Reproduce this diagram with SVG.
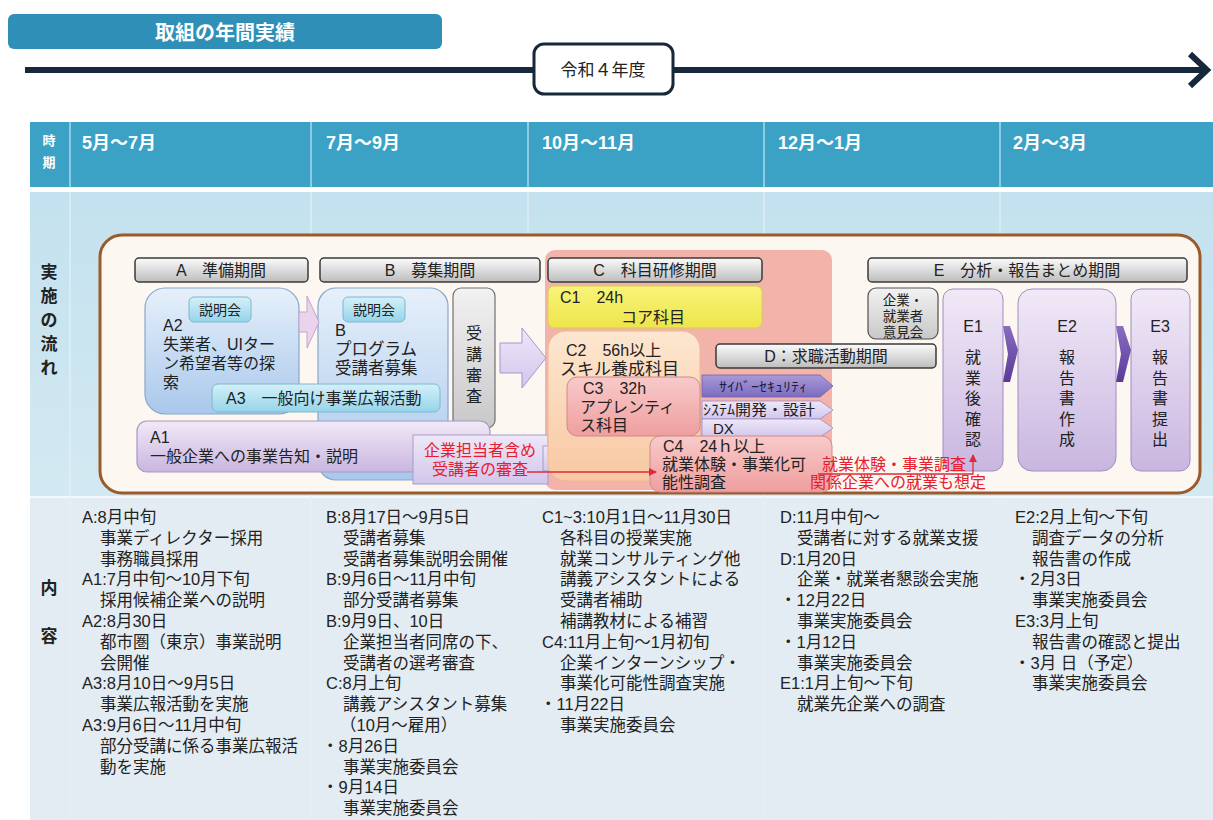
<svg xmlns="http://www.w3.org/2000/svg" width="1213" height="820" viewBox="0 0 1213 820">
<defs>
<linearGradient id="gBar" x1="0" y1="0" x2="0" y2="1"><stop offset="0" stop-color="#fbfbfb"/><stop offset="1" stop-color="#bdbdbd"/></linearGradient>
<linearGradient id="gGrey" x1="0" y1="0" x2="0" y2="1"><stop offset="0" stop-color="#f2f2f2"/><stop offset="1" stop-color="#c8c8c8"/></linearGradient>
<linearGradient id="gBlue" x1="0" y1="0" x2="0" y2="1"><stop offset="0" stop-color="#e6f0fa"/><stop offset="1" stop-color="#a9c8ec"/></linearGradient>
<linearGradient id="gCyan" x1="0" y1="0" x2="0" y2="1"><stop offset="0" stop-color="#d4f0f8"/><stop offset="1" stop-color="#96d4ea"/></linearGradient>
<linearGradient id="gLav" x1="0" y1="0" x2="0" y2="1"><stop offset="0" stop-color="#f1e9f7"/><stop offset="1" stop-color="#c9b6e0"/></linearGradient>
<linearGradient id="gLav2" x1="0" y1="0" x2="0" y2="1"><stop offset="0" stop-color="#eee8f8"/><stop offset="1" stop-color="#d2c6ec"/></linearGradient>
<linearGradient id="gYel" x1="0" y1="0" x2="0" y2="1"><stop offset="0" stop-color="#f8f47a"/><stop offset="1" stop-color="#eee44a"/></linearGradient>
<linearGradient id="gPeach" x1="0" y1="0" x2="0" y2="1"><stop offset="0" stop-color="#fde6cf"/><stop offset="1" stop-color="#f8c8a2"/></linearGradient>
<linearGradient id="gPink" x1="0" y1="0" x2="0" y2="1"><stop offset="0" stop-color="#f8caca"/><stop offset="1" stop-color="#ef9e9e"/></linearGradient>
<linearGradient id="gPurple" x1="0" y1="0" x2="0" y2="1"><stop offset="0" stop-color="#a89ad8"/><stop offset="1" stop-color="#7c6cc0"/></linearGradient>
<linearGradient id="gDark" x1="0" y1="0" x2="0" y2="1"><stop offset="0" stop-color="#8a6cc0"/><stop offset="1" stop-color="#5a3a98"/></linearGradient>
<linearGradient id="gFlow" x1="0" y1="0" x2="0" y2="1"><stop offset="0" stop-color="#c3e1ee"/><stop offset="1" stop-color="#d3e9f2"/></linearGradient>
<marker id="redHead" markerWidth="8" markerHeight="8" refX="7" refY="4" orient="auto" markerUnits="userSpaceOnUse"><path d="M0,0 L8,4 L0,8 z" fill="#e02a3a"/></marker>
<style>
text{font-family:'Liberation Sans','Noto Sans CJK JP','Noto Sans CJK SC',sans-serif;fill:#222;}
.hd{font-size:18px;font-weight:bold;fill:#fff;}
.lbl{font-size:17px;font-weight:bold;text-anchor:middle;}
.bar{fill:url(#gBar);stroke:#3a3a3a;stroke-width:1.5;}
.bt{font-size:16px;text-anchor:middle;}
.t16{font-size:16px;}
.red{fill:#e5202e;font-size:16px;}
.ct{font-size:16.5px;}
.vc{font-size:16px;text-anchor:middle;}
.sep{stroke:#e4f2f8;stroke-width:1.2;}
.hsep{stroke:#a8d8e8;stroke-width:1.5;}
</style>
</defs>

<rect x="0" y="0" width="1213" height="820" fill="#ffffff"/>

<g id="title">
<rect x="8" y="14" width="434" height="35" rx="6" fill="#2f8fb6"/>
<text x="225" y="40" style="font-size:20px;font-weight:bold;fill:#fff" text-anchor="middle">取組の年間実績</text>
</g>

<g id="timeline">
<line x1="25" y1="70" x2="1203" y2="70" stroke="#17283a" stroke-width="6"/>
<polyline points="1190,54 1207,70 1190,86" fill="none" stroke="#17283a" stroke-width="6"/>
<rect x="534" y="44" width="139" height="50" rx="10" fill="#fff" stroke="#17283a" stroke-width="3"/>
<text x="603" y="76" style="font-size:17px" text-anchor="middle">令和４年度</text>
</g>

<g id="table">
<rect x="30" y="122" width="1183" height="65" fill="#3ba2c6"/>
<line class="hsep" x1="70" y1="122" x2="70" y2="187"/>
<line class="hsep" x1="311" y1="122" x2="311" y2="187"/>
<line class="hsep" x1="528" y1="122" x2="528" y2="187"/>
<line class="hsep" x1="764" y1="122" x2="764" y2="187"/>
<line class="hsep" x1="1000" y1="122" x2="1000" y2="187"/>
<text x="49" y="145" style="font-size:13px;font-weight:bold;fill:#fff" text-anchor="middle">時<tspan x="49" dy="22">期</tspan></text>
<text class="hd" x="82" y="149">5月～7月</text>
<text class="hd" x="326" y="149">7月～9月</text>
<text class="hd" x="542" y="149">10月～11月</text>
<text class="hd" x="778" y="149">12月～1月</text>
<text class="hd" x="1013" y="149">2月～3月</text>
<rect x="30" y="192" width="1183" height="305" fill="url(#gFlow)"/>
<rect x="30" y="497" width="1183" height="323" fill="#e2ecf2"/>
<line x1="30" y1="497" x2="1213" y2="497" stroke="#f2f8fb" stroke-width="2"/>
<line class="sep" x1="70" y1="192" x2="70" y2="820"/>
<line class="sep" x1="311" y1="192" x2="311" y2="820"/>
<line class="sep" x1="528" y1="192" x2="528" y2="820"/>
<line class="sep" x1="764" y1="192" x2="764" y2="820"/>
<line class="sep" x1="1000" y1="192" x2="1000" y2="820"/>
<text class="lbl" x="49" y="278">実<tspan x="49" dy="24">施</tspan><tspan x="49" dy="24">の</tspan><tspan x="49" dy="24">流</tspan><tspan x="49" dy="24">れ</tspan></text>
<text class="lbl" x="49" y="594">内<tspan x="49" dy="48">容</tspan></text>
</g>

<g id="frame">
<rect x="100" y="235" width="1100" height="258" rx="22" fill="#fcf8f1" stroke="#9a5a2a" stroke-width="3"/>
<rect x="545" y="250" width="287" height="240" rx="10" fill="#f2b3ab"/>
</g>

<g id="barA"><rect class="bar" x="135" y="258" width="173" height="24" rx="4"/><text class="bt" x="221" y="276">A　準備期間</text></g>
<g id="barB"><rect class="bar" x="320" y="258" width="220" height="24" rx="4"/><text class="bt" x="430" y="276">B　募集期間</text></g>
<g id="barC"><rect class="bar" x="548" y="258" width="214" height="24" rx="4"/><text class="bt" x="655" y="276">C　科目研修期間</text></g>
<g id="barE"><rect class="bar" x="868" y="258" width="319" height="24" rx="4"/><text class="bt" x="1027" y="276">E　分析・報告まとめ期間</text></g>

<g id="nodeB">
<rect x="318" y="288" width="130" height="192" rx="18" fill="url(#gBlue)" stroke="#8aa6c8" stroke-width="1.2"/>
<rect x="343" y="297" width="62" height="25" rx="5" fill="url(#gCyan)" stroke="#7cb8d0"/>
<text class="bt" x="374" y="315" style="font-size:14px">説明会</text>
<text x="335" y="336" style="font-size:16.5px">B<tspan x="335" dy="19">プログラム</tspan><tspan x="335" dy="19">受講者募集</tspan></text>
</g>

<g id="nodeA2">
<rect x="145" y="288" width="154" height="126" rx="20" fill="url(#gBlue)" stroke="#8aa6c8" stroke-width="1.2"/>
<rect x="189" y="297" width="62" height="25" rx="5" fill="url(#gCyan)" stroke="#7cb8d0"/>
<text class="bt" x="220" y="315" style="font-size:14px">説明会</text>
<text class="t16" x="163" y="331">A2<tspan x="163" dy="19">失業者、UIター</tspan><tspan x="163" dy="19">ン希望者等の探</tspan><tspan x="163" dy="19">索</tspan></text>
</g>

<g id="nodeJuko">
<rect x="453" y="288" width="42" height="140" rx="8" fill="url(#gGrey)" stroke="#707070" stroke-width="1.2"/>
<text class="vc" x="474" y="339">受<tspan x="474" dy="21">講</tspan><tspan x="474" dy="21">審</tspan><tspan x="474" dy="21">査</tspan></text>
</g>

<g id="nodeA3">
<rect x="212" y="384" width="228" height="28" rx="6" fill="url(#gCyan)" stroke="#7cb8d0"/>
<text class="t16" x="226" y="404">A3　一般向け事業広報活動</text>
</g>

<g id="nodeA1">
<rect x="137" y="421" width="353" height="51" rx="10" fill="url(#gLav)" stroke="#a896c6" stroke-width="1.2"/>
<text class="t16" x="150" y="443">A1<tspan x="150" dy="19">一般企業への事業告知・説明</tspan></text>
</g>

<g id="nodeShinsa">
<rect x="413" y="435" width="135" height="49" fill="url(#gLav2)" stroke="#a59cc8" stroke-width="1"/>
<text class="red" x="480" y="456" text-anchor="middle">企業担当者含め<tspan x="480" dy="19">受講者の審査</tspan></text>
</g>
<g id="nodeMatch">
<rect x="543" y="446" width="105" height="25" fill="url(#gLav2)" stroke="#a59cc8" stroke-width="1"/>
<text class="red" x="594" y="464" text-anchor="middle" style="font-size:15.5px">マッチング</text>
</g>

<g id="nodeC1">
<rect x="548" y="286" width="214" height="42" rx="6" fill="url(#gYel)" stroke="#d8cc50" stroke-width="1"/>
<text class="t16" x="560" y="303">C1　24h<tspan x="621" dy="20">コア科目</tspan></text>
</g>

<g id="nodeC2">
<rect x="548" y="331" width="152" height="150" rx="18" fill="url(#gPeach)" stroke="#f0b890" stroke-width="1"/>
<text class="t16" x="566" y="356">C2　56h以上<tspan x="560" dy="19" style="font-size:17px">スキル養成科目</tspan></text>
</g>

<g id="nodeC3">
<rect x="567" y="377" width="133" height="59" rx="10" fill="url(#gPink)" stroke="#d08a8a" stroke-width="1"/>
<text class="t16" x="583" y="394">C3　32h<tspan x="580" dy="19">アプレンティ</tspan><tspan x="580" dy="18">ス科目</tspan></text>
</g>

<g id="arrowCyber">
<polygon points="702,375 820,375 833,386 820,397 702,397" fill="url(#gPurple)" stroke="#7060b0" stroke-width="0.8"/>
<text x="719" y="391" style="font-size:13px;fill:#1c1c3c" textLength="88" lengthAdjust="spacingAndGlyphs">ｻｲﾊﾞｰｾｷｭﾘﾃｨ</text>
</g>
<g id="arrowSys">
<polygon points="702,401 820,401 833,410 820,419 702,419" fill="url(#gLav2)" stroke="#9a8cc4" stroke-width="0.8"/>
<text x="703" y="415" style="font-size:14.5px" textLength="112" lengthAdjust="spacingAndGlyphs">ｼｽﾃﾑ開発・設計</text>
</g>
<g id="arrowDX">
<polygon points="702,419 820,419 833,428 820,437 702,437" fill="url(#gLav2)" stroke="#9a8cc4" stroke-width="0.8"/>
<text x="713" y="434" style="font-size:15px">DX</text>
</g>

<g id="nodeC4">
<rect x="650" y="436" width="182" height="56" rx="10" fill="url(#gPink)" stroke="#d08a8a" stroke-width="1"/>
<text class="t16" x="663" y="452">C4　24ｈ以上<tspan x="662" dy="18">就業体験・事業化可</tspan><tspan x="662" dy="18">能性調査</tspan></text>
</g>

<g id="barD"><rect class="bar" x="716" y="344" width="220" height="24" rx="4"/><text class="bt" x="826" y="362">D：求職活動期間</text></g>

<g id="nodeIken">
<rect x="868" y="288" width="70" height="51" rx="8" fill="url(#gGrey)" stroke="#505050" stroke-width="1.2"/>
<text class="bt" x="903" y="305" style="font-size:13.5px">企業・<tspan x="903" dy="16">就業者</tspan><tspan x="903" dy="16">意見会</tspan></text>
</g>

<g id="nodeE1">
<rect x="943" y="289" width="60" height="182" rx="10" fill="url(#gLav)" stroke="#9e8cc0" stroke-width="1"/>
<text class="vc" x="973" y="332">E1<tspan x="973" dy="31">就</tspan><tspan x="973" dy="20.5">業</tspan><tspan x="973" dy="20.5">後</tspan><tspan x="973" dy="20.5">確</tspan><tspan x="973" dy="20.5">認</tspan></text>
</g>
<g id="nodeE2">
<rect x="1018" y="289" width="98" height="182" rx="14" fill="url(#gLav)" stroke="#9e8cc0" stroke-width="1"/>
<text class="vc" x="1067" y="332">E2<tspan x="1067" dy="31">報</tspan><tspan x="1067" dy="20.5">告</tspan><tspan x="1067" dy="20.5">書</tspan><tspan x="1067" dy="20.5">作</tspan><tspan x="1067" dy="20.5">成</tspan></text>
</g>
<g id="nodeE3">
<rect x="1131" y="289" width="59" height="182" rx="10" fill="url(#gLav)" stroke="#9e8cc0" stroke-width="1"/>
<text class="vc" x="1160" y="332">E3<tspan x="1160" dy="31">報</tspan><tspan x="1160" dy="20.5">告</tspan><tspan x="1160" dy="20.5">書</tspan><tspan x="1160" dy="20.5">提</tspan><tspan x="1160" dy="20.5">出</tspan></text>
</g>

<g id="redNote">
<text class="red" x="822" y="470">就業体験・事業調査<tspan x="810" dy="18">関係企業への就業も想定</tspan></text>
</g>

<g id="connectors">
<polygon points="299,312 307,312 307,296 319,322 307,348 307,332 299,332" fill="#ead4ec" stroke="#c7a2cc" stroke-width="1"/>
<polygon points="500,343 522,343 522,328 546,358 522,388 522,373 500,373" fill="url(#gLav2)" stroke="#a995cc" stroke-width="1"/>
<polygon points="1003,326 1010,326 1018,350 1010,382 1003,382 1008,354" fill="url(#gDark)"/>
<polygon points="1116,326 1123,326 1131,350 1123,382 1116,382 1121,354" fill="url(#gDark)"/>
<line x1="527" y1="472" x2="656" y2="472" stroke="#e02a3a" stroke-width="1.5" marker-end="url(#redHead)"/>
<polyline points="818,474 973,474 973,455" fill="none" stroke="#e02a3a" stroke-width="1.3" marker-end="url(#redHead)"/>
</g>

<g id="content1">
<text class="ct" x="82" y="523">A:8月中旬<tspan x="100" dy="20.8">事業ディレクター採用</tspan><tspan x="100" dy="20.8">事務職員採用</tspan><tspan x="82" dy="20.8">A1:7月中旬～10月下旬</tspan><tspan x="100" dy="20.8">採用候補企業への説明</tspan><tspan x="82" dy="20.8">A2:8月30日</tspan><tspan x="100" dy="20.8">都市圏（東京）事業説明</tspan><tspan x="100" dy="20.8">会開催</tspan><tspan x="82" dy="20.8">A3:8月10日～9月5日</tspan><tspan x="100" dy="20.8">事業広報活動を実施</tspan><tspan x="82" dy="20.8">A3:9月6日～11月中旬</tspan><tspan x="100" dy="20.8">部分受講に係る事業広報活</tspan><tspan x="100" dy="20.8">動を実施</tspan></text>
</g>
<g id="content2">
<text class="ct" x="326" y="523">B:8月17日～9月5日<tspan x="343" dy="20.8">受講者募集</tspan><tspan x="343" dy="20.8">受講者募集説明会開催</tspan><tspan x="326" dy="20.8">B:9月6日～11月中旬</tspan><tspan x="343" dy="20.8">部分受講者募集</tspan><tspan x="326" dy="20.8">B:9月9日、10日</tspan><tspan x="343" dy="20.8">企業担当者同席の下、</tspan><tspan x="343" dy="20.8">受講者の選考審査</tspan><tspan x="326" dy="20.8">C:8月上旬</tspan><tspan x="343" dy="20.8">講義アシスタント募集</tspan><tspan x="340" dy="20.8">（10月～雇用）</tspan><tspan x="322" dy="20.8">・8月26日</tspan><tspan x="343" dy="20.8">事業実施委員会</tspan><tspan x="322" dy="20.8">・9月14日</tspan><tspan x="343" dy="20.8">事業実施委員会</tspan></text>
</g>
<g id="content3">
<text class="ct" x="542" y="523">C1~3:10月1日～11月30日<tspan x="560" dy="20.8">各科目の授業実施</tspan><tspan x="560" dy="20.8">就業コンサルティング他</tspan><tspan x="560" dy="20.8">講義アシスタントによる</tspan><tspan x="560" dy="20.8">受講者補助</tspan><tspan x="560" dy="20.8">補講教材による補習</tspan><tspan x="542" dy="20.8">C4:11月上旬～1月初旬</tspan><tspan x="560" dy="20.8">企業インターンシップ・</tspan><tspan x="560" dy="20.8">事業化可能性調査実施</tspan><tspan x="540" dy="20.8">・11月22日</tspan><tspan x="560" dy="20.8">事業実施委員会</tspan></text>
</g>
<g id="content4">
<text class="ct" x="780" y="523">D:11月中旬～<tspan x="797" dy="20.8">受講者に対する就業支援</tspan><tspan x="780" dy="20.8">D:1月20日</tspan><tspan x="797" dy="20.8">企業・就業者懇談会実施</tspan><tspan x="780" dy="20.8">・12月22日</tspan><tspan x="797" dy="20.8">事業実施委員会</tspan><tspan x="780" dy="20.8">・1月12日</tspan><tspan x="797" dy="20.8">事業実施委員会</tspan><tspan x="780" dy="20.8">E1:1月上旬～下旬</tspan><tspan x="797" dy="20.8">就業先企業への調査</tspan></text>
</g>
<g id="content5">
<text class="ct" x="1015" y="523">E2:2月上旬～下旬<tspan x="1032" dy="20.8">調査データの分析</tspan><tspan x="1032" dy="20.8">報告書の作成</tspan><tspan x="1014" dy="20.8">・2月3日</tspan><tspan x="1032" dy="20.8">事業実施委員会</tspan><tspan x="1015" dy="20.8">E3:3月上旬</tspan><tspan x="1032" dy="20.8">報告書の確認と提出</tspan><tspan x="1014" dy="20.8">・3月 日（予定）</tspan><tspan x="1032" dy="20.8">事業実施委員会</tspan></text>
</g>
</svg>
